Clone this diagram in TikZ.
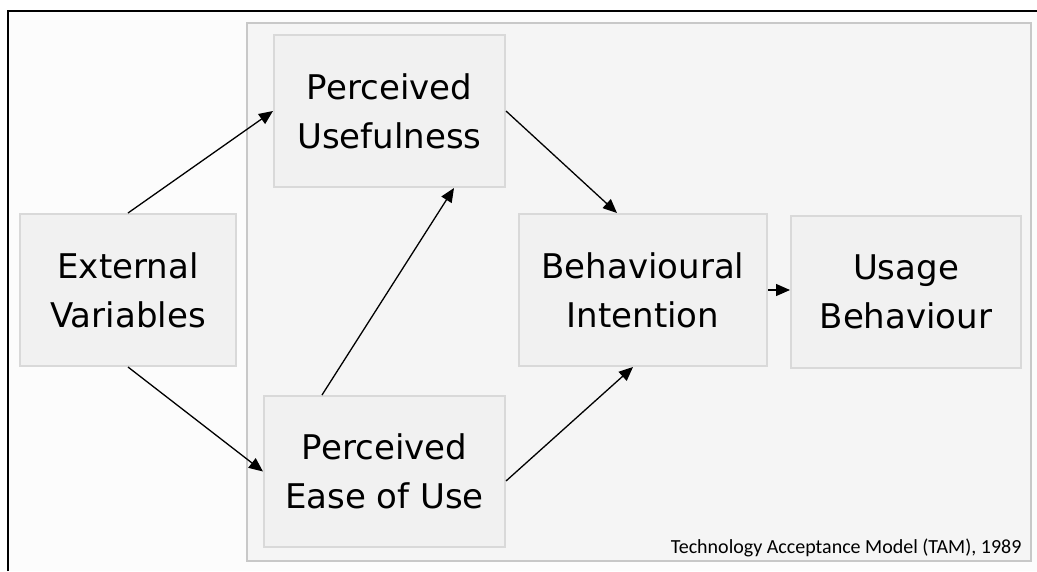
\documentclass[tikz,border=0pt]{standalone}
\usepackage{fontspec}
\setmainfont{DejaVu Sans}
\newfontfamily\capfont{Carlito}
\usetikzlibrary{arrows.meta}

\definecolor{panelfill}{HTML}{F5F5F5}
\definecolor{panelline}{HTML}{C8C8C8}
\definecolor{boxfill}{HTML}{F1F1F1}
\definecolor{boxline}{HTML}{D9D9D9}
\definecolor{pagefill}{HTML}{FCFCFC}

\begin{document}
\begin{tikzpicture}[x=1pt,y=-1pt,
  tambox/.style={draw=boxline,fill=boxfill,line width=2pt,inner sep=0pt,
    minimum height=152pt,align=center,font=\fontsize{34}{49}\selectfont},
  link/.style={line width=1.3pt,-{Triangle[length=14pt,width=12pt]}}]

\useasboundingbox (0,0) rectangle (1037,571);
\fill[white] (0,0) rectangle (1037,571);
\fill[pagefill] (8,11) rectangle (1037,571);
\draw[line width=2pt] (8,571) -- (8,11) -- (1037,11);

\draw[draw=panelline,fill=panelfill,line width=2pt] (247,23) rectangle (1031,561);

\node[tambox,minimum width=216pt] (ext) at (128,290) {External\\Variables};
\node[tambox,minimum width=231pt] (pu) at (389.5,111) {Perceived\\Usefulness};
\node[tambox,minimum width=241pt,minimum height=151pt] (peou) at (384.5,471.5) {Perceived\\Ease of Use};
\node[tambox,minimum width=248pt] (bi) at (643,290) {Behavioural\\Intention};
\node[tambox,minimum width=230pt] (ub) at (906,292) {Usage\\Behaviour};

\node[anchor=base east,font=\capfont\fontsize{20}{24}\selectfont] (cap) at (1025,553) {Technology Acceptance Model (TAM), 1989};

\draw[link] (ext.north) -- (pu.west);
\draw[link] (ext.south) -- (peou.west);
\draw[link] ([xshift=59pt]peou.north west) -- ([xshift=-52pt]pu.south east);
\draw[link] (pu.east) -- ([xshift=-26pt]bi.north);
\draw[link] ([yshift=-9.5pt]peou.east) -- ([xshift=-10pt]bi.south);
\draw[link] (bi.east) -- (bi.east -| ub.west);

\end{tikzpicture}
\end{document}
